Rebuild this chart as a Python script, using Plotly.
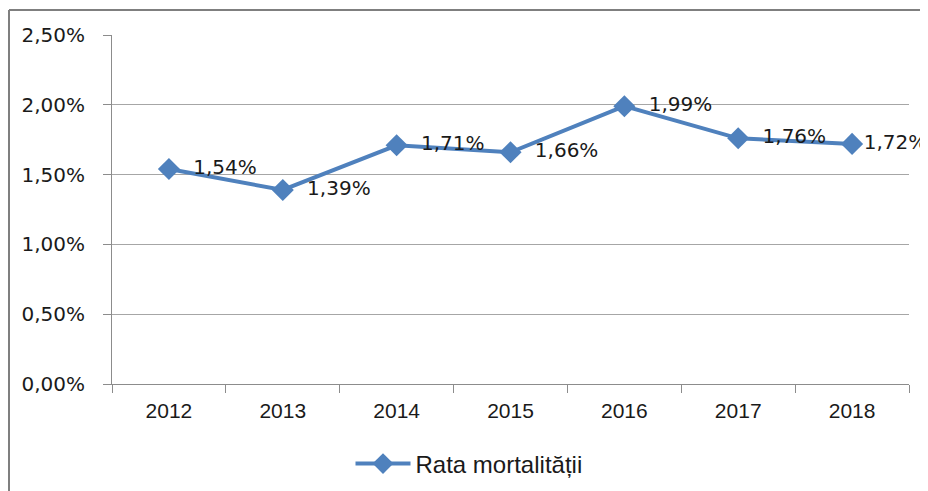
import plotly.graph_objects as go

years = ["2012", "2013", "2014", "2015", "2016", "2017", "2018"]
rates = [0.0154, 0.0139, 0.0171, 0.0166, 0.0199, 0.0176, 0.0172]
y_ticks = [0, 0.005, 0.010, 0.015, 0.020, 0.025]
series_name = "Rata mortalității"

# page body adds an 8px offset; work in reference pixel coords and subtract it
OFF = 8
W, H = 928 - OFF, 491 - OFF
x0, x1 = 112 - OFF, 909 - OFF
y_top, y_bot = 35 - OFF, 384 - OFF
pw, ph = x1 - x0, y_bot - y_top


def px(x):
    return (x - OFF - x0) / pw


def py(y):
    return (y_bot - (y - OFF)) / ph


# last label sits closer to its marker (as in the reference)
label_tpl = ["\u00a0\u00a0%{y:.2%}"] * (len(rates) - 1) + ["%{y:.2%}"]

fig = go.Figure()
fig.add_trace(go.Scatter(
    x=years, y=rates, name=series_name,
    mode="lines+markers+text",
    line=dict(color="#4F81BD", width=4),
    marker=dict(symbol="diamond", size=17, color="#4F81BD"),
    texttemplate=label_tpl, textposition="middle right",
    textfont=dict(family="DejaVu Sans", size=20, color="#1a1a1a"),
    cliponaxis=False,
))

fig.update_layout(
    width=W, height=H,
    margin=dict(l=x0, r=W - x1, t=y_top, b=H - y_bot, autoexpand=False),
    paper_bgcolor="white", plot_bgcolor="white",
    separators=", ",
    showlegend=True,
    legend=dict(orientation="h", x=px(469), xanchor="center", y=py(464), yanchor="middle",
                font=dict(family="Liberation Sans", size=24, color="#1a1a1a"),
                itemwidth=55, bgcolor="rgba(0,0,0,0)"),
    xaxis=dict(
        type="category", automargin=False,
        showline=True, linecolor="#8c8c8c", linewidth=1,
        ticks="outside", ticklen=8, tickcolor="#8c8c8c", tickson="boundaries",
        showgrid=False,
        tickfont=dict(family="Liberation Sans", size=21, color="#1a1a1a"),
        ticklabelstandoff=8,
        range=[-0.5, 6.5],
    ),
    yaxis=dict(
        range=[0, 0.025], automargin=False,
        tickvals=y_ticks, tickformat=".2%",
        showline=True, linecolor="#8c8c8c", linewidth=1,
        ticks="outside", ticklen=8, tickcolor="#8c8c8c",
        showgrid=True, gridcolor="#a6a6a6", gridwidth=1,
        zeroline=False,
        ticklabelstandoff=14,
        tickfont=dict(family="DejaVu Sans", size=20, color="#1a1a1a"),
    ),
    shapes=[
        dict(type="line", xref="paper", yref="paper", x0=px(9), x1=px(940), y0=py(10), y1=py(10),
             line=dict(color="#7f7f7f", width=2)),
        dict(type="line", xref="paper", yref="paper", x0=px(9), x1=px(9), y0=py(10), y1=py(500),
             line=dict(color="#7f7f7f", width=2)),
    ],
)

fig.write_html("out.html")
